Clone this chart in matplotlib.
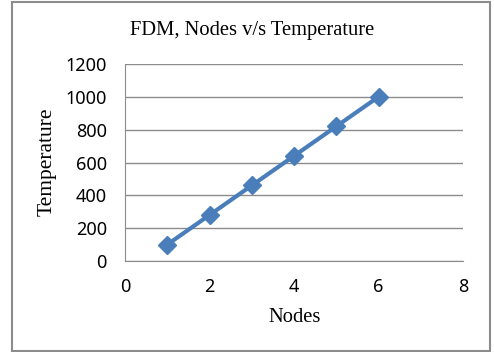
import matplotlib.pyplot as plt
from matplotlib.patches import Rectangle

# Дані: вузли та температура
nodes = [1, 2, 3, 4, 5, 6]
temperature = [100, 280, 460, 640, 820, 1000]
x_ticks = [0, 2, 4, 6, 8]
y_ticks = [0, 200, 400, 600, 800, 1000, 1200]

fig = plt.figure(figsize=(4.94, 3.52), dpi=100)
fig.patches.append(Rectangle((12 / 494, 1 / 352), 478 / 494, 349 / 352,
                             transform=fig.transFigure, fill=False,
                             edgecolor='#8c8c8c', linewidth=1.5))

ax = fig.add_axes([125 / 494, 91 / 352, 338 / 494, 197 / 352])
ax.plot(nodes, temperature, color='#4a7ebb', linewidth=3,
        marker='D', markersize=9, markerfacecolor='#4a7ebb', markeredgecolor='#4a7ebb')

ax.set_xlim(0, 8)
ax.set_ylim(0, 1200)
ax.set_xticks(x_ticks)
ax.set_yticks(y_ticks)
ax.tick_params(axis='y', length=0, labelsize=13, pad=13)
ax.tick_params(axis='x', length=0, labelsize=13, pad=12)
for lbl in ax.get_xticklabels() + ax.get_yticklabels():
    lbl.set_family('Noto Sans')
ax.yaxis.grid(True, color='#8c8c8c', linewidth=1)
ax.set_axisbelow(True)
for side in ['top', 'right']:
    ax.spines[side].set_visible(False)
for side in ['left', 'bottom']:
    ax.spines[side].set_color('#8c8c8c')

fig.text(252 / 494, 1 - 30 / 352, 'FDM, Nodes v/s Temperature', family='Liberation Serif',
         fontsize=14.8, ha='center', va='center')
fig.text(295 / 494, 1 - 317 / 352, 'Nodes', family='Liberation Serif',
         fontsize=14.8, ha='center', va='center')
fig.text(47 / 494, 1 - 162 / 352, 'Temperature', family='Liberation Serif',
         fontsize=15.5, ha='center', va='center', rotation=90)

fig.savefig('out.png', dpi=100)
